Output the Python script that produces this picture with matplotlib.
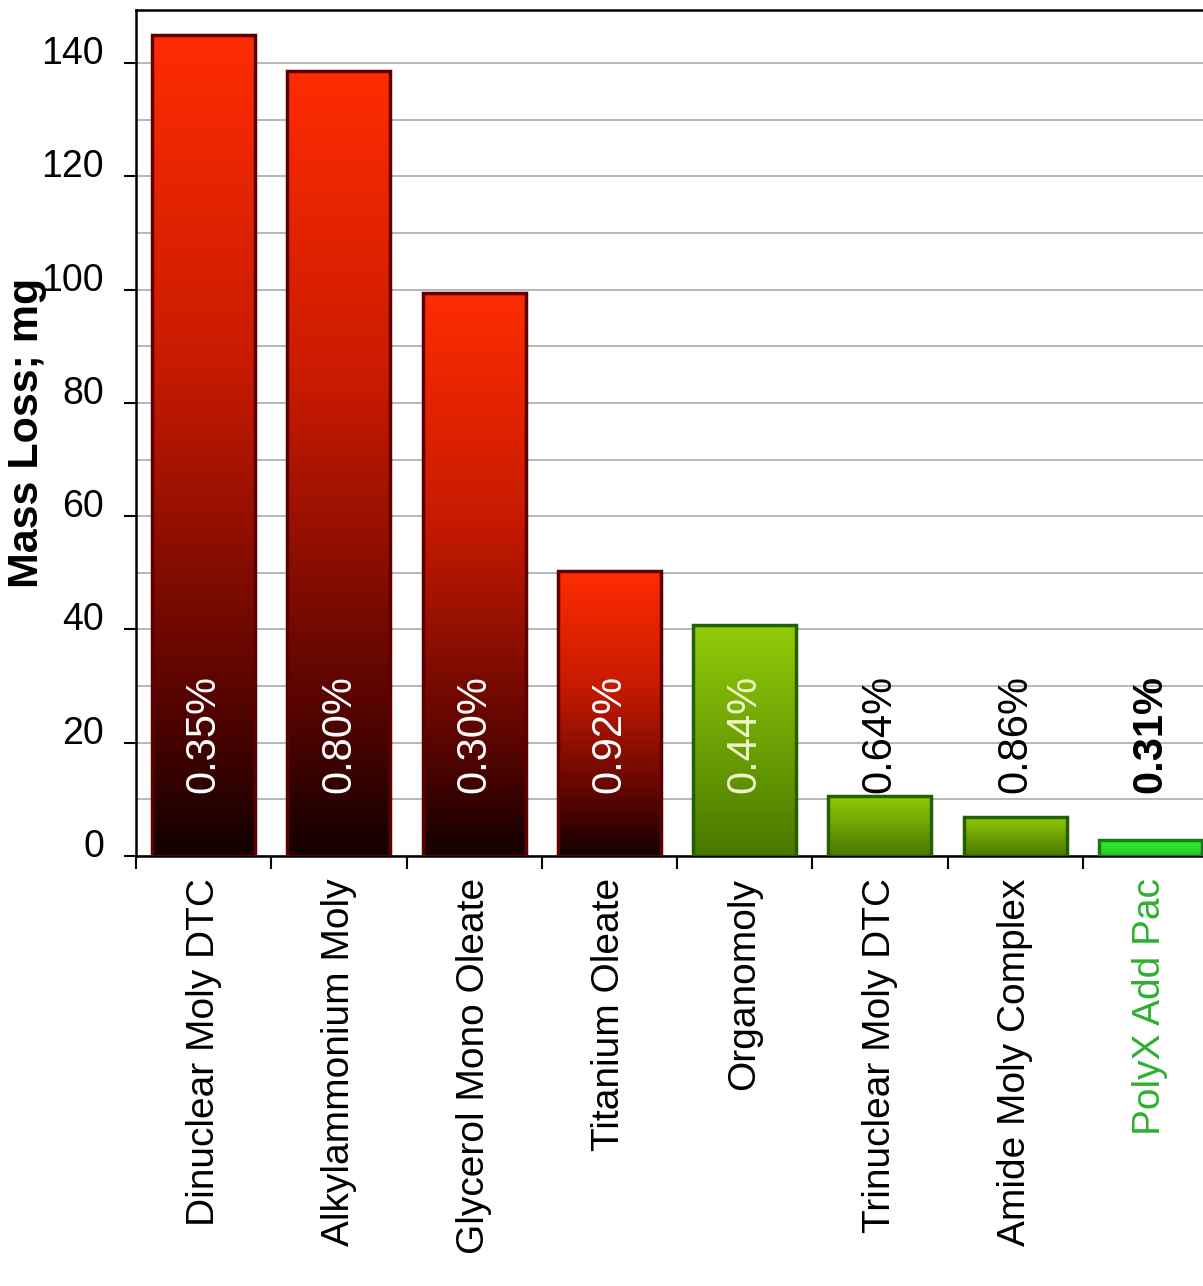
import numpy as np
import matplotlib
matplotlib.use("Agg")
import matplotlib.pyplot as plt
import matplotlib.transforms as mtransforms
from matplotlib.colors import LinearSegmentedColormap

plt.rcParams['font.family'] = ['Liberation Sans', 'DejaVu Sans']

# data
categories = ['Dinuclear Moly DTC', 'Alkylammonium Moly', 'Glycerol Mono Oleate',
              'Titanium Oleate', 'Organomoly', 'Trinuclear Moly DTC',
              'Amide Moly Complex', 'PolyX Add Pac']
mass_loss = [145.0, 138.6, 99.4, 50.3, 40.8, 10.6, 6.9, 2.8]
treat_rates = ['0.35%', '0.80%', '0.30%', '0.92%', '0.44%', '0.64%', '0.86%', '0.31%']
bar_style = ['red', 'red', 'red', 'red', 'olive', 'olive', 'olive', 'green']
label_colors = ['white', 'white', 'white', 'white', '#eef5c8', 'black', 'black', 'black']
label_weights = ['normal'] * 7 + ['bold']
tick_colors = ['black'] * 7 + ['#2eb02e']

cmaps = {
    'red': LinearSegmentedColormap.from_list(
        'red', [(0, '#120000'), (0.2, '#5a0400'), (0.45, '#a01200'),
                (0.6, '#c81a00'), (1, '#ff2c00')]),
    'olive': LinearSegmentedColormap.from_list(
        'olive', [(0, '#497800'), (1, '#93cc08')]),
    'green': LinearSegmentedColormap.from_list(
        'green', [(0, '#22cc22'), (1, '#33ee33')]),
}
edges = {'red': '#5e0000', 'olive': '#236100', 'green': '#167a16'}

fig = plt.figure(figsize=(12.03, 12.86), dpi=100)
ax = fig.add_axes([136 / 1203, 430 / 1286, 1082 / 1203, 846 / 1286])

x = np.arange(len(categories))
width = 0.76
bars = ax.bar(x, mass_loss, width=width, color='none', zorder=3)

grad = np.linspace(0, 1, 256).reshape(-1, 1)
for rect, style in zip(bars, bar_style):
    x0, h = rect.get_x(), rect.get_height()
    im = ax.imshow(grad, extent=(x0, x0 + width, 0, h), origin='lower',
                   aspect='auto', cmap=cmaps[style], zorder=3)
    im.set_clip_path(rect)
    rect.set_edgecolor(edges[style])
    rect.set_linewidth(2.5)
    rect.set_zorder(4)

for xi, txt, c, w in zip(x, treat_rates, label_colors, label_weights):
    ax.text(xi, 11.1, txt, rotation=90, ha='center', va='bottom',
            fontsize=30, color=c, fontweight=w, zorder=5)

ax.set_xlim(-0.5, 7.5)
ax.set_ylim(0, 149.4)

ax.set_yticks(np.arange(0, 141, 20))
ax.set_yticks(np.arange(0, 141, 10), minor=True)
ax.grid(axis='y', which='both', color='#b4b4c4', linewidth=1.4, zorder=0)
ax.tick_params(axis='y', which='major', direction='out', length=9, width=1.5,
               labelsize=27, pad=14)
ax.tick_params(axis='y', which='minor', length=0)
offset = mtransforms.ScaledTranslation(0, 0.13, fig.dpi_scale_trans)
for lbl in ax.get_yticklabels():
    lbl.set_transform(lbl.get_transform() + offset)

ax.set_xticks(x)
ax.set_xticklabels(categories, rotation=90, fontsize=28)
for lbl, c in zip(ax.get_xticklabels(), tick_colors):
    lbl.set_color(c)
ax.set_xticks(np.arange(-0.5, 7.5, 1), minor=True)
ax.tick_params(axis='x', which='major', length=0, pad=16)
ax.tick_params(axis='x', which='minor', direction='out', length=9, width=1.5)

ax.set_ylabel('Mass Loss; mg', fontsize=31, fontweight='bold')
ax.yaxis.set_label_coords(-0.082, 0.5)

for side in ['left', 'bottom', 'top']:
    ax.spines[side].set_linewidth(1.8)
    ax.spines[side].set_color('black')

fig.savefig('out.png', dpi=100)
